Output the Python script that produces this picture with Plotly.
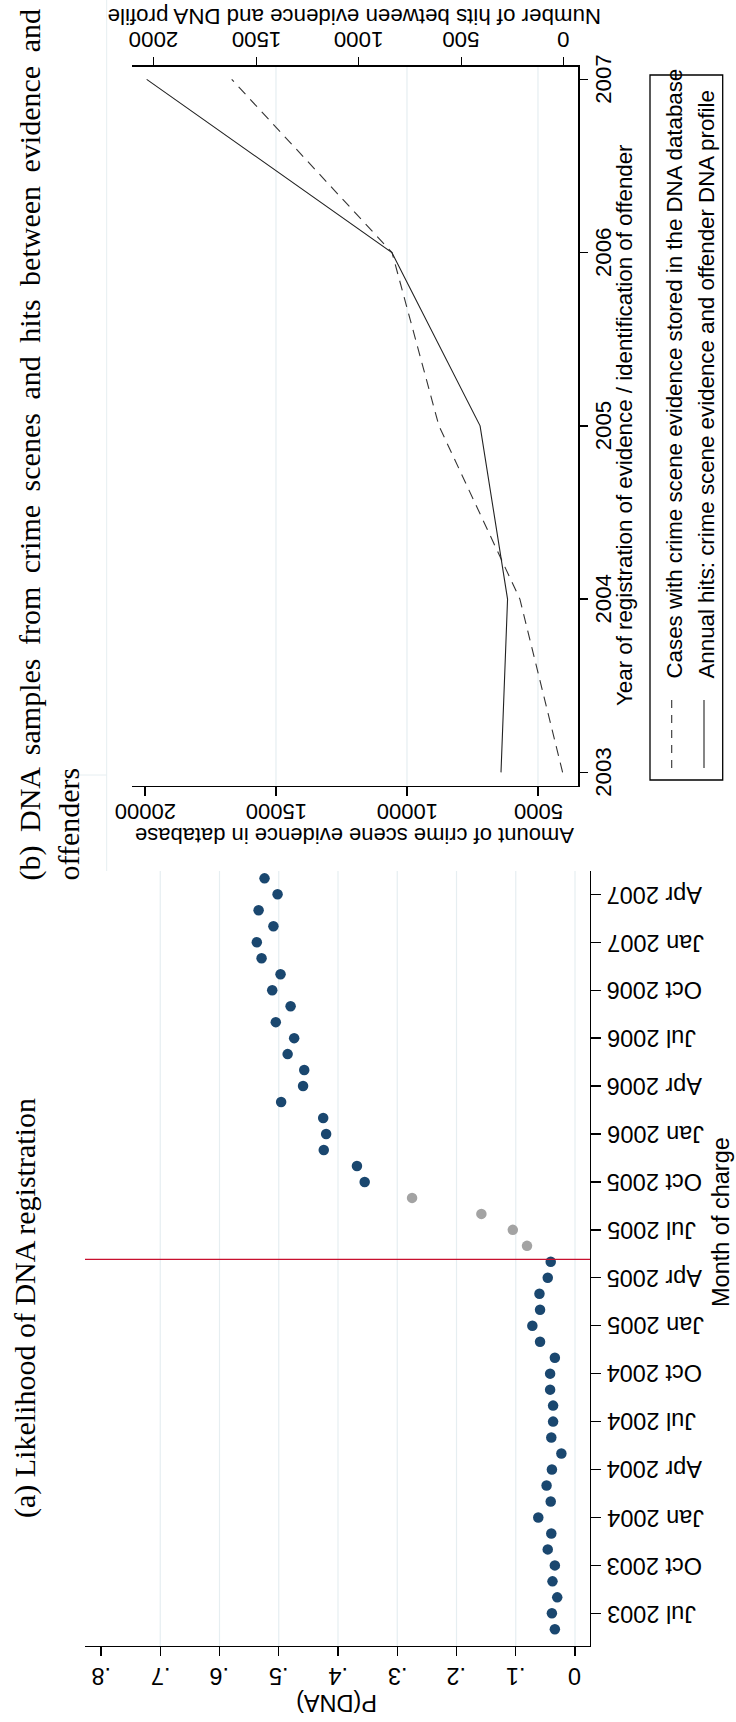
import numpy as np
import pandas as pd
import plotly.graph_objects as go

W, H = 736, 1722
SANS = "Liberation Sans"
SERIF = "Liberation Serif"
INK = "#000000"
NAVY = "#1a476f"
GREY = "#a3a3a3"
GRID = "#e6eef1"
RED = "#c8102e"

# ---------------- Panel (a): likelihood of DNA registration by month ----------------
months = pd.period_range("2003-06", periods=48, freq="M")
month_names = list(months.strftime("%b %Y"))
p_dna = [0.034, 0.039, 0.030, 0.038, 0.034, 0.046, 0.040, 0.062, 0.041, 0.048,
         0.039, 0.023, 0.040, 0.037, 0.037, 0.042, 0.042, 0.034, 0.059, 0.072,
         0.059, 0.060, 0.046, 0.041, 0.081, 0.105, 0.158, 0.275, 0.355, 0.368,
         0.424, 0.420, 0.425, 0.496, 0.459, 0.457, 0.485, 0.474, 0.505, 0.480,
         0.511, 0.497, 0.529, 0.537, 0.509, 0.534, 0.502, 0.524]
transition_months = ["Jun 2005", "Jul 2005", "Aug 2005", "Sep 2005"]
month_ticks = ["Jul 2003", "Oct 2003", "Jan 2004", "Apr 2004", "Jul 2004", "Oct 2004",
               "Jan 2005", "Apr 2005", "Jul 2005", "Oct 2005", "Jan 2006", "Apr 2006",
               "Jul 2006", "Oct 2006", "Jan 2007", "Apr 2007"]
p_ticks = [0, 0.1, 0.2, 0.3, 0.4, 0.5, 0.6, 0.7, 0.8]
p_tick_labels = ["0", ".1", ".2", ".3", ".4", ".5", ".6", ".7", ".8"]
p_grid = [0, 0.1, 0.2, 0.3, 0.4, 0.5, 0.6, 0.7]
reform_month = 23.15  # position on the month axis (just after May 2005)

# ---------------- Panel (b): evidence stored and hits per year ----------------
years = [2003, 2004, 2005, 2006, 2007]
cases_stored = [4060, 5690, 8780, 10570, 16690]
annual_hits = [306, 274, 408, 838, 2034]
cases_ticks = [5000, 10000, 15000, 20000]
cases_grid = [5000, 10000, 15000]
hits_ticks = [0, 500, 1000, 1500, 2000]
year_ticks = [2003, 2004, 2005, 2006, 2007]

caption_a = "(a) Likelihood of DNA registration"
caption_b = ["(b) DNA samples from crime scenes and hits between evidence and", "offenders"]


def px_x(v):
    return v / W


def px_y(v):
    return 1 - v / H


def justified(line):
    # widen the inter-word gaps of a full (justified) caption line
    return " \u2009".join(line.split(" "))


month_pos = np.arange(len(months))
month_colors = [GREY if m in transition_months else NAVY for m in month_names]

fig = go.Figure()

fig.add_trace(go.Scatter(
    x=p_dna, y=month_pos, mode="markers", xaxis="x", yaxis="y",
    marker=dict(size=10.5, color=month_colors, line=dict(width=0)),
    hoverinfo="skip"))

fig.add_trace(go.Scatter(
    x=cases_stored, y=years, mode="lines", xaxis="x2", yaxis="y2",
    line=dict(color="#333333", width=1.1, dash="10px,7px"), hoverinfo="skip"))

fig.add_trace(go.Scatter(
    x=annual_hits, y=years, mode="lines", xaxis="x3", yaxis="y2",
    line=dict(color="#222222", width=1.1), hoverinfo="skip"))

axis_common = dict(showline=True, linecolor=INK, linewidth=1.3, ticks="outside",
                   tickcolor=INK, tickwidth=1.3, showticklabels=False,
                   showgrid=False, zeroline=False, fixedrange=True)

fig.update_layout(
    width=W, height=H,
    margin=dict(l=0, r=0, t=0, b=0),
    paper_bgcolor="white", plot_bgcolor="white",
    showlegend=False,
    xaxis=dict(domain=[px_x(85), px_x(590)], range=[0.827, -0.0253], anchor="y",
               ticklen=9, tickvals=p_ticks, **axis_common),
    yaxis=dict(domain=[px_y(1646), px_y(871)], range=[-1.045, 47.46], anchor="x",
               side="right", ticklen=10,
               tickvals=[month_names.index(m) for m in month_ticks], **axis_common),
    xaxis2=dict(domain=[px_x(131.7), px_x(578.3)], range=[20507, 3461], anchor="y2",
                side="bottom", ticklen=9, tickvals=cases_ticks, **axis_common),
    xaxis3=dict(domain=[px_x(131.7), px_x(578.3)], range=[2107, -71], anchor="y2",
                overlaying="x2", side="top", ticklen=8, tickvals=hits_ticks, **axis_common),
    yaxis2=dict(domain=[px_y(785.7), px_y(66.7)], range=[2002.923, 2007.073], anchor="x2",
                side="right", ticklen=8.5, tickvals=year_ticks, **axis_common),
)

shapes = []
# light vertical grid lines
for g in p_grid:
    shapes.append(dict(type="line", xref="x", yref="y domain", x0=g, x1=g, y0=0, y1=1,
                       line=dict(color=GRID, width=1.2), layer="below"))
for g in cases_grid:
    shapes.append(dict(type="line", xref="x2", yref="y2 domain", x0=g, x1=g, y0=0, y1=1,
                       line=dict(color=GRID, width=1.2), layer="below"))
# reform date marker
shapes.append(dict(type="line", xref="x domain", yref="y", x0=0, x1=1,
                   y0=reform_month, y1=reform_month, line=dict(color=RED, width=1.4)))
# faint outline of the panel (b) graph region
shapes.append(dict(type="line", xref="paper", yref="paper", x0=px_x(106.7), x1=px_x(106.7),
                   y0=px_y(0), y1=px_y(871), line=dict(color=GRID, width=1)))
shapes.append(dict(type="line", xref="paper", yref="paper", x0=px_x(60), x1=px_x(106.7),
                   y0=px_y(775), y1=px_y(775), line=dict(color=GRID, width=1)))
# legend box and keys
shapes.append(dict(type="rect", xref="paper", yref="paper", x0=px_x(650), x1=px_x(722.7),
                   y0=px_y(780), y1=px_y(75), line=dict(color=INK, width=1.3)))
shapes.append(dict(type="line", xref="paper", yref="paper", x0=px_x(671.7), x1=px_x(671.7),
                   y0=px_y(768), y1=px_y(700), line=dict(color="#333333", width=1.1, dash="8px,7px")))
shapes.append(dict(type="line", xref="paper", yref="paper", x0=px_x(704), x1=px_x(704),
                   y0=px_y(768), y1=px_y(700), line=dict(color="#222222", width=1.1)))
fig.update_layout(shapes=shapes)

annotations = []


def note(text, x, y, xref="paper", yref="paper", angle=0, size=22.3, family=SANS,
         xanchor="center", yanchor="middle"):
    annotations.append(dict(text=text, x=x, y=y, xref=xref, yref=yref, textangle=angle,
                            showarrow=False, xanchor=xanchor, yanchor=yanchor,
                            borderpad=0,
                            font=dict(family=family, size=size, color=INK)))


# panel (a) labels
for v, lab in zip(p_ticks, p_tick_labels):
    note(lab, v, px_y(1676), xref="x", angle=180, size=23.5)
for m in month_ticks:
    note(m, px_x(606), month_names.index(m), yref="y", angle=180, size=23.5, xanchor="left")
note("P(DNA)", px_x(337), px_y(1703), angle=180, size=23.5)
note("Month of charge", px_x(721), px_y(1222), angle=-90, size=23.5)
note(caption_a, px_x(25), px_y(1308), angle=-90, size=30, family=SERIF)

# panel (b) labels
for v in cases_ticks:
    note(str(v), v, px_y(812), xref="x2", angle=180, size=22)
note("Amount of crime scene evidence in database", px_x(355), px_y(836), angle=180, size=22)
for v in hits_ticks:
    note(str(v), v, px_y(40), xref="x3", angle=180)
note("Number of hits between evidence and DNA profile", px_x(355), px_y(17), angle=180)
for v in year_ticks:
    note(str(v), px_x(603.5), v, yref="y2", angle=-90)
note("Year of registration of evidence / identification of offender",
     px_x(625), px_y(425), angle=-90)
note("Cases with crime scene evidence stored in the DNA database",
     px_x(673.5), px_y(680), angle=-90, yanchor="bottom")
note("Annual hits: crime scene evidence and offender DNA profile",
     px_x(705.5), px_y(680), angle=-90, yanchor="bottom")
note(justified(caption_b[0]), px_x(29), px_y(882), angle=-90, size=30, family=SERIF,
     yanchor="bottom")
note(caption_b[1], px_x(68), px_y(882), angle=-90, size=30, family=SERIF, yanchor="bottom")

fig.update_layout(annotations=annotations)

fig.write_html("out.html", config={"displayModeBar": False, "staticPlot": True})
